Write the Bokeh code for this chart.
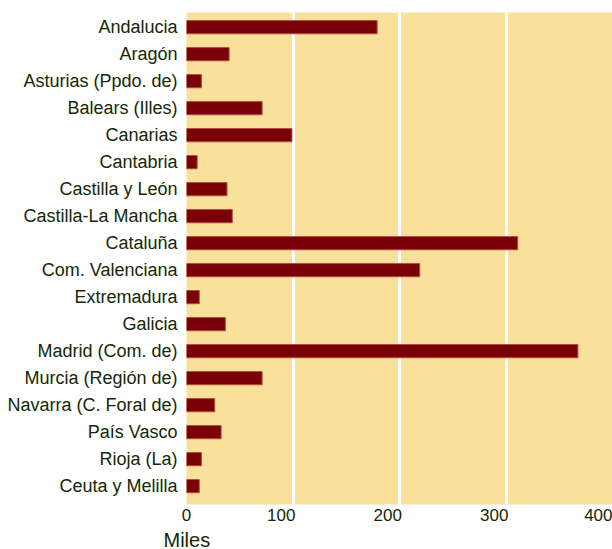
import numpy as np
from bokeh.plotting import figure
from bokeh.models import Range1d, FixedTicker, Title, ColumnDataSource
from bokeh.embed import file_html
from bokeh.resources import INLINE

regions = ["Andalucia", "Aragón", "Asturias (Ppdo. de)", "Balears (Illes)", "Canarias",
           "Cantabria", "Castilla y León", "Castilla-La Mancha", "Cataluña",
           "Com. Valenciana", "Extremadura", "Galicia", "Madrid (Com. de)",
           "Murcia (Región de)", "Navarra (C. Foral de)", "País Vasco", "Rioja (La)",
           "Ceuta y Melilla"]
values = [179, 40, 14, 71, 99, 10, 38, 43, 311, 219, 12, 36.5, 367.5, 71, 26.5, 32.5, 14, 12]
x_ticks = [0, 100, 200, 300, 400]
x_tick_labels = ["0", "100", "200", "300", "400"]
grid_ticks = [100, 200, 300]
axis_title = "Miles"

TEXT = "#142805"
FONT = "Liberation Sans"
PAD = "\u2007\u2007\u00a0"  # keeps tick text to the left of its gridline, as in the source

idx = list(range(len(regions)))
src = ColumnDataSource(dict(y=idx, v=values))

p = figure(width=612, height=549, output_backend="svg", toolbar_location=None,
           x_range=Range1d(0, 400), y_range=Range1d(17.68, -0.544),
           min_border_left=186, min_border_right=0, min_border_top=12,
           min_border_bottom=0)
p.outline_line_color = None
p.background_fill_color = "#f9e09b"
p.border_fill_color = "white"

p.hbar(y="y", right="v", left=0, height=0.49, source=src,
       fill_color="#7a0008", line_color="#b0503e", line_width=1)

p.xgrid.ticker = FixedTicker(ticks=grid_ticks)
p.xgrid.grid_line_color = "white"
p.xgrid.grid_line_width = 3
p.ygrid.grid_line_color = None

p.xaxis.ticker = FixedTicker(ticks=x_ticks)
p.xaxis.major_label_overrides = {t: (l if t in (0, 400) else l + PAD) for t, l in zip(x_ticks, x_tick_labels)}
p.xaxis.axis_line_color = None
p.xaxis.major_tick_line_color = None
p.xaxis.minor_tick_line_color = None
p.xaxis.major_label_text_font = FONT
p.xaxis.major_label_text_font_size = "17px"
p.xaxis.major_label_text_color = TEXT
p.xaxis.major_label_standoff = -5

p.yaxis.ticker = FixedTicker(ticks=idx)
p.yaxis.major_label_overrides = {i: r for i, r in zip(idx, regions)}
p.yaxis.axis_line_color = None
p.yaxis.major_tick_line_color = None
p.yaxis.minor_tick_line_color = None
p.yaxis.major_label_text_font = FONT
p.yaxis.major_label_text_font_size = "18px"
p.yaxis.major_label_text_color = TEXT
p.yaxis.major_label_standoff = 3

t = Title(text=axis_title, align="left", offset=-23, standoff=-2,
          text_font=FONT, text_font_size="20px", text_color=TEXT,
          text_font_style="normal")
p.add_layout(t, "below")

open("out.html", "w").write(file_html(p, INLINE))
